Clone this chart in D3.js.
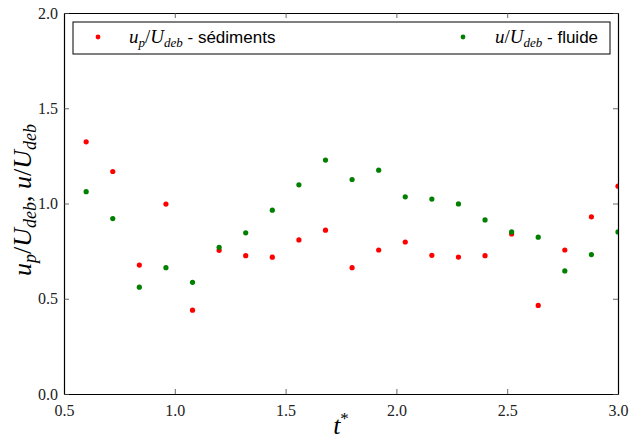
<!DOCTYPE html>
<html><head><meta charset="utf-8">
<script src="https://cdn.jsdelivr.net/npm/d3@7"></script>
<style>body{margin:0;background:#fff}</style>
</head><body>
<svg id="c" width="629" height="443"></svg>
<script>
const tValues = [0.6,0.72,0.84,0.96,1.08,1.2,1.32,1.44,1.56,1.68,1.8,1.92,2.04,2.16,2.28,2.4,2.52,2.64,2.76,2.88,3.0];
const sediments = [1.324,1.168,0.677,0.997,0.44,0.754,0.726,0.718,0.809,0.86,0.663,0.756,0.798,0.728,0.719,0.726,0.84,0.465,0.756,0.93,1.091];
const fluide = [1.062,0.921,0.561,0.663,0.586,0.770,0.846,0.965,1.098,1.228,1.126,1.175,1.035,1.023,0.998,0.914,0.851,0.823,0.646,0.732,0.851];
const xTicks = [0.5,1.0,1.5,2.0,2.5,3.0];
const yTicks = [0.0,0.5,1.0,1.5,2.0];

const L=64,R=618,T=13,B=394;
const svg=d3.select("#c");
const x=d3.scaleLinear().domain([0.5,3.0]).range([L,R]);
const y=d3.scaleLinear().domain([0,2]).range([B,T]);
const serif="'Liberation Serif','DejaVu Serif',serif";
const sans="'Liberation Sans',Arial,sans-serif";

svg.append("defs").append("clipPath").attr("id","clip").append("rect")
  .attr("x",L).attr("y",T).attr("width",R-L).attr("height",B-T);

const fmt=d3.format(".1f");
const gb=svg.append("g").attr("transform",`translate(0,${B})`)
  .call(d3.axisBottom(x).tickValues(xTicks).tickFormat(fmt).tickSizeInner(-5).tickSizeOuter(0).tickPadding(8));
const gt=svg.append("g").attr("transform",`translate(0,${T})`)
  .call(d3.axisTop(x).tickValues(xTicks).tickFormat("").tickSizeInner(-5).tickSizeOuter(0));
const gl=svg.append("g").attr("transform",`translate(${L},0)`)
  .call(d3.axisLeft(y).tickValues(yTicks).tickFormat(fmt).tickSizeInner(-5).tickSizeOuter(0).tickPadding(6));
const gr=svg.append("g").attr("transform",`translate(${R},0)`)
  .call(d3.axisRight(y).tickValues(yTicks).tickFormat("").tickSizeInner(-5).tickSizeOuter(0));
[gb,gt,gl,gr].forEach(g=>{
  g.attr("font-family",null).attr("font-size",null);
  g.select(".domain").attr("stroke","#000").attr("stroke-width",1.2);
  g.selectAll(".tick line").attr("stroke","#444").attr("stroke-width",0.8);
  g.selectAll(".tick text").style("font-family",serif).style("font-size","16px").attr("fill","#222");
});
gb.selectAll(".tick text").attr("dy","0.85em");

const plot=svg.append("g").attr("clip-path","url(#clip)");
plot.selectAll("circle.s").data(tValues).join("circle").attr("class","s")
  .attr("cx",d=>x(d)).attr("cy",(d,i)=>y(sediments[i])).attr("r",2.6).attr("fill","#ff0000");
plot.selectAll("circle.f").data(tValues).join("circle").attr("class","f")
  .attr("cx",d=>x(d)).attr("cy",(d,i)=>y(fluide[i])).attr("r",2.6).attr("fill","#008000");

// legend
svg.append("rect").attr("x",73).attr("y",22).attr("width",537).attr("height",32)
  .attr("fill","#fff").attr("stroke","#000").attr("stroke-width",1);
svg.append("circle").attr("cx",98).attr("cy",37).attr("r",2.4).attr("fill","#ff0000");
svg.append("circle").attr("cx",463).attr("cy",37).attr("r",2.4).attr("fill","#008000");
function mathLabel(sel, parts, big, small, off){
  parts.forEach(p=>{
    const ts=sel.append("tspan").style("font-family",p.sans?sans:serif);
    if(p.it) ts.style("font-style","italic");
    if(p.sub){ts.style("font-size",small+"px").attr("dy",off);} 
    else if(p.after){ts.style("font-size",(p.sans?big-2:big)+"px").attr("dy",-off);} 
    else ts.style("font-size",(p.sans?big-2:big)+"px");
    ts.text(p.t);
  });
}
const t1=svg.append("text").attr("x",129).attr("y",43);
mathLabel(t1,[{t:"u",it:1},{t:"p",it:1,sub:1},{t:"/",after:1},{t:"U",it:1},{t:"deb",it:1,sub:1},{t:" - sédiments",sans:1,after:1}],19,13,4);
const t2=svg.append("text").attr("x",495).attr("y",43);
mathLabel(t2,[{t:"u",it:1},{t:"/"},{t:"U",it:1},{t:"deb",it:1,sub:1},{t:" - fluide",sans:1,after:1}],19,13,4);

// axis labels
const xl=svg.append("text").attr("x",341).attr("y",434).attr("text-anchor","middle");
xl.append("tspan").style("font-family",serif).style("font-style","italic").style("font-size","26px").text("t");
xl.append("tspan").style("font-family",serif).style("font-size","17px").attr("dy",-10).text("*");

const yl=svg.append("text").attr("transform","translate(31,200) rotate(-90)").attr("text-anchor","middle");
mathLabel(yl,[{t:"u",it:1},{t:"p",it:1,sub:1},{t:"/",after:1},{t:"U",it:1},{t:"deb",it:1,sub:1},{t:", ",after:1},{t:"u",it:1},{t:"/"},{t:"U",it:1},{t:"deb",it:1,sub:1}],26,18,5);
</script>
</body></html>
